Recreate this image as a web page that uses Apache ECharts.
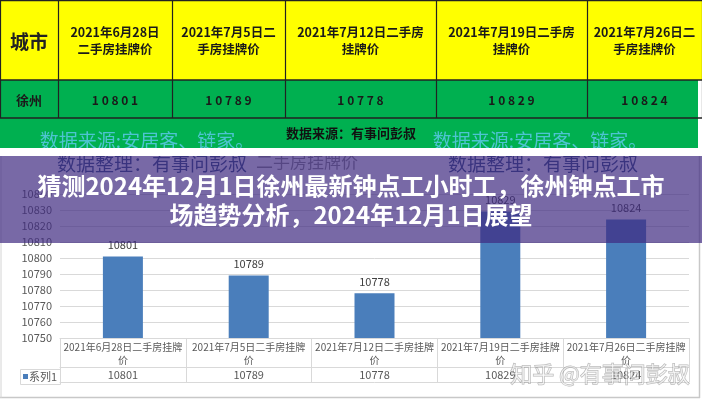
<!DOCTYPE html>
<html>
<head>
<meta charset="utf-8">
<script src="https://cdn.jsdelivr.net/npm/echarts@6/dist/echarts.min.js"></script>
<style>
html,body{margin:0;padding:0;background:#fff;}
#box{width:702px;height:400px;}
</style>
</head>
<body>
<div id="box"></div>
<script>
var city = '徐州';
var dates = ['2021年6月28日', '2021年7月5日', '2021年7月12日', '2021年7月19日', '2021年7月26日'];
var prices = [10801, 10789, 10778, 10829, 10824];
var seriesName = '系列1';
var yTicks = {min: 10750, max: 10840, step: 10};
var title = '猜测2024年12月1日徐州最新钟点工小时工，徐州钟点工市\n场趋势分析，2024年12月1日展望';

// header table columns (where the cell text wraps)
var colX = [0, 58, 172, 285, 436, 587, 702];
var headCut = [10, 10, 13, 13, 11];

var cats = dates.map(function (d) { return d + '二手房挂牌价'; });
var FONT = '"Noto Sans CJK SC", "Noto Sans", sans-serif';
var barColor = '#4a7ebb';

var g = [];
// top table
g.push({type: 'rect', z: 1, shape: {x: 0, y: 0, width: 702, height: 80}, style: {fill: '#ffff00'}});
g.push({type: 'rect', z: 1, shape: {x: 0, y: 80, width: 698, height: 68}, style: {fill: '#00b050'}});
g.push({type: 'line', z: 3, shape: {x1: 0, y1: 0.5, x2: 702, y2: 0.5}, style: {stroke: '#222', lineWidth: 1.5}});
g.push({type: 'line', z: 3, shape: {x1: 0, y1: 80, x2: 702, y2: 80}, style: {stroke: '#222', lineWidth: 1.5}});
g.push({type: 'line', z: 3, shape: {x1: 0, y1: 118, x2: 702, y2: 118}, style: {stroke: '#222', lineWidth: 1.5}});
for (var i = 0; i < colX.length; i++) {
  g.push({type: 'line', z: 3, shape: {x1: colX[i] + 0.5, y1: 0, x2: colX[i] + 0.5, y2: 118}, style: {stroke: '#222', lineWidth: 1.2}});
}
g.push({type: 'text', z: 4, style: {text: '城市', x: 29, y: 42, font: 'bold 19px ' + FONT, fill: '#222', align: 'center', verticalAlign: 'middle'}});
g.push({type: 'text', z: 4, style: {text: city, x: 29, y: 100, font: 'bold 13px ' + FONT, fill: '#1a1a1a', align: 'center', verticalAlign: 'middle'}});
for (var j = 0; j < cats.length; j++) {
  var cx = (colX[j + 1] + colX[j + 2]) / 2;
  var t = cats[j].slice(0, headCut[j]) + '\n' + cats[j].slice(headCut[j]);
  g.push({type: 'text', z: 4, style: {text: t, x: cx, y: 41, font: 'bold 12.5px ' + FONT, lineHeight: 17, fill: '#1a1a1a', align: 'center', verticalAlign: 'middle'}});
  g.push({type: 'text', z: 4, style: {text: String(prices[j]).split('').join(' '), x: cx, y: 100, font: 'bold 12px ' + FONT, fill: '#1a1a1a', align: 'center', verticalAlign: 'middle'}});
}
g.push({type: 'text', z: 4, style: {text: '数据来源：有事问彭叔', x: 351, y: 133, font: 'bold 13px ' + FONT, fill: '#111', align: 'center', verticalAlign: 'middle'}});
g.push({type: 'text', z: 4, style: {text: '数据来源:安居客、链家。', x: 147, y: 141, font: '19px ' + FONT, fill: '#5cc8e8', opacity: 0.85, align: 'center', verticalAlign: 'middle'}});
g.push({type: 'text', z: 4, style: {text: '数据来源:安居客、链家。', x: 540, y: 141, font: '19px ' + FONT, fill: '#5cc8e8', opacity: 0.85, align: 'center', verticalAlign: 'middle'}});
g.push({type: 'rect', z: 5, shape: {x: 0, y: 148, width: 702, height: 8}, style: {fill: '#fff'}});
// faded chart header under the banner
g.push({type: 'text', z: 4, style: {text: '数据整理：有事问彭叔', x: 152, y: 164, font: '19px ' + FONT, fill: '#2c4a7c', align: 'center', verticalAlign: 'middle'}});
g.push({type: 'text', z: 4, style: {text: '二手房挂牌价', x: 307, y: 162, font: '17px ' + FONT, fill: '#8a8a8a', align: 'center', verticalAlign: 'middle'}});
g.push({type: 'text', z: 4, style: {text: '数据整理：有事问彭叔', x: 543, y: 164, font: '19px ' + FONT, fill: '#2c4a7c', align: 'center', verticalAlign: 'middle'}});
// banner
g.push({type: 'rect', z: 50, shape: {x: 0, y: 156, width: 702, height: 87}, style: {fill: 'rgba(62,42,128,0.7)'}});
g.push({type: 'text', z: 51, style: {text: title, x: 351, y: 200, font: 'bold 24px ' + FONT, lineHeight: 29, fill: '#fff', align: 'center', verticalAlign: 'middle'}});
// legend cell of data table
g.push({type: 'rect', z: 3, shape: {x: 20.5, y: 369.5, width: 40, height: 15}, style: {fill: 'none', stroke: '#d9d9d9', lineWidth: 1}});
g.push({type: 'rect', z: 4, shape: {x: 23, y: 374, width: 5, height: 5}, style: {fill: barColor}});
g.push({type: 'text', z: 4, style: {text: seriesName, x: 29, y: 377, font: '11px ' + FONT, fill: '#595959', verticalAlign: 'middle'}});
// frame
g.push({type: 'line', z: 3, shape: {x1: 0, y1: 397.5, x2: 700, y2: 397.5}, style: {stroke: '#c8c8c8', lineWidth: 1.5}});
g.push({type: 'line', z: 3, shape: {x1: 699.5, y1: 148, x2: 699.5, y2: 398}, style: {stroke: '#c8c8c8', lineWidth: 1.5}});
g.push({type: 'line', z: 3, shape: {x1: 1, y1: 156, x2: 1, y2: 398}, style: {stroke: '#d4d4d4', lineWidth: 1}});
// watermark
g.push({type: 'text', z: 60, style: {text: '知乎 @有事问彭叔', x: 600, y: 374, font: '22px ' + FONT, fill: 'rgba(255,255,255,0.55)', stroke: 'rgba(120,120,120,0.55)', lineWidth: 1, align: 'center', verticalAlign: 'middle'}});

var myChart = echarts.init(document.getElementById('box'));
var option = {
  animation: false,
  backgroundColor: '#fff',
  textStyle: {fontFamily: FONT},
  grid: {left: 60, right: 13, top: 194, bottom: 62},
  xAxis: [{
    type: 'category',
    data: cats,
    axisLine: {lineStyle: {color: '#d9d9d9'}},
    axisTick: {show: true, length: 44, lineStyle: {color: '#d9d9d9'}},
    axisLabel: {
      color: '#595959', fontSize: 10, lineHeight: 12.5, margin: 3, interval: 0,
      formatter: function (v) { return v.slice(0, -1) + '\n' + v.slice(-1); }
    }
  }, {
    type: 'category',
    position: 'bottom',
    offset: 29,
    data: prices.map(String),
    axisLine: {lineStyle: {color: '#d9d9d9'}},
    axisTick: {show: false},
    axisLabel: {color: '#595959', fontSize: 11, margin: 2, interval: 0}
  }, {
    type: 'category',
    position: 'bottom',
    offset: 44,
    data: cats,
    axisLine: {lineStyle: {color: '#d9d9d9'}},
    axisTick: {show: false},
    axisLabel: {show: false}
  }],
  yAxis: {
    type: 'value',
    min: yTicks.min,
    max: yTicks.max,
    interval: yTicks.step,
    axisLine: {show: false},
    axisTick: {show: false},
    axisLabel: {color: '#595959', fontSize: 11, margin: 8, formatter: function (v) { return String(v); }},
    splitLine: {lineStyle: {color: '#d9d9d9'}}
  },
  series: [{
    name: seriesName,
    type: 'bar',
    data: prices,
    barWidth: 40,
    itemStyle: {color: barColor},
    label: {show: true, position: 'top', distance: 6, color: '#404040', fontSize: 11}
  }],
  graphic: {elements: g}
};
if (option && typeof option === 'object') {
  myChart.setOption(option, true);
}
</script>
</body>
</html>
